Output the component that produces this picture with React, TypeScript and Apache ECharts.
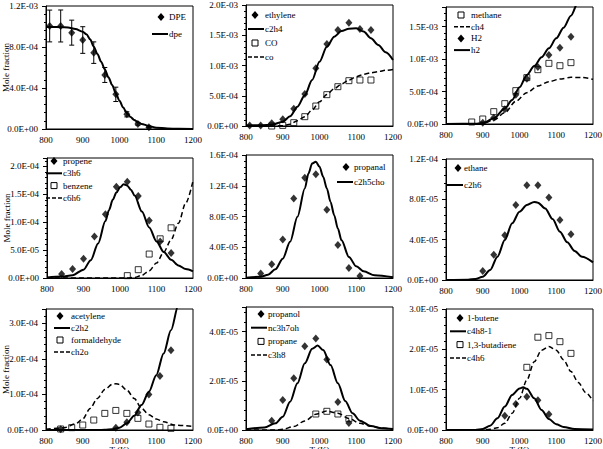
import React, { useEffect, useRef } from 'react';
import * as echarts from 'echarts';

const FONT = "'Liberation Serif', 'Times New Roman', Times, serif";

// ---------- Panel 1: DPE ----------
const dpeT = [810, 840, 870, 900, 930, 960, 990, 1020, 1050, 1080];
const dpeV = [1.005e-3, 1.005e-3, 0.94e-3, 0.868e-3, 0.745e-3, 0.527e-3, 0.338e-3, 0.143e-3, 0.049e-3, 0.016e-3];
const dpeErr = [0.155e-3, 0.156e-3, 0.122e-3, 0.13e-3, 0.105e-3, 0.073e-3, 0.07e-3, 0.025e-3, 0.012e-3, 0.005e-3];
const dpeCurveT = [800, 820, 840, 860, 880, 900, 910, 920, 930, 940, 950, 960, 970, 980, 990, 1000, 1010, 1020, 1030, 1040, 1050, 1060, 1080, 1100, 1130, 1160, 1200];
const dpeCurveV = [0.995e-3, 0.995e-3, 0.993e-3, 0.99e-3, 0.975e-3, 0.95e-3, 0.924e-3, 0.875e-3, 0.803e-3, 0.732e-3, 0.657e-3, 0.582e-3, 0.504e-3, 0.429e-3, 0.348e-3, 0.276e-3, 0.21e-3, 0.155e-3, 0.117e-3, 0.088e-3, 0.068e-3, 0.05e-3, 0.029e-3, 0.013e-3, 0.005e-3, 0.002e-3, 0];

// ---------- Panel 2: ethylene / CO ----------
const ethyT = [810, 840, 870, 900, 930, 960, 990, 1020, 1050, 1080, 1110, 1140];
const ethyV = [1e-5, 1e-5, 4.4e-5, 1.1e-4, 2.86e-4, 5.29e-4, 9.53e-4, 1.355e-3, 1.587e-3, 1.708e-3, 1.603e-3, 1.587e-3];
const coT = [870, 900, 930, 960, 990, 1020, 1050, 1080, 1110, 1140];
const coV = [0, 1e-5, 5.5e-5, 1.54e-4, 3.3e-4, 5.18e-4, 6.5e-4, 7.49e-4, 7.6e-4, 7.6e-4];
const c2h4T = [800, 840, 870, 900, 920, 940, 960, 980, 1000, 1020, 1040, 1060, 1080, 1100, 1120, 1140, 1160, 1180, 1200];
const c2h4V = [1e-5, 1.2e-5, 2e-5, 7e-5, 1.6e-4, 3.2e-4, 5.1e-4, 7.6e-4, 1.063e-3, 1.31e-3, 1.477e-3, 1.57e-3, 1.609e-3, 1.614e-3, 1.56e-3, 1.449e-3, 1.339e-3, 1.218e-3, 1.09e-3];
const coCurveT = [800, 880, 900, 920, 940, 960, 980, 1000, 1020, 1040, 1060, 1080, 1100, 1120, 1140, 1160, 1180, 1200];
const coCurveV = [0, 0, 5e-6, 3e-5, 8.8e-5, 1.54e-4, 2.64e-4, 4.0e-4, 5.2e-4, 6.17e-4, 6.94e-4, 7.6e-4, 8.15e-4, 8.54e-4, 8.8e-4, 9.0e-4, 9.2e-4, 9.35e-4];

// ---------- Panel 3: methane / H2 ----------
const methT = [870, 900, 930, 960, 990, 1020, 1050, 1080, 1110, 1140];
const methV = [3.1e-5, 7.7e-5, 1.9e-4, 3.13e-4, 5.13e-4, 7.13e-4, 8.36e-4, 9.33e-4, 8.97e-4, 9.44e-4];
const h2T = [900, 930, 960, 990, 1020, 1050, 1080, 1110, 1140];
const h2V = [2e-5, 9.7e-5, 2.26e-4, 4.51e-4, 6.97e-4, 8.77e-4, 1.062e-3, 1.174e-3, 1.344e-3];
const ch4CurveT = [800, 880, 900, 930, 960, 990, 1020, 1050, 1080, 1110, 1140, 1170, 1200];
const ch4CurveV = [0, 2e-6, 1e-5, 6e-5, 1.74e-4, 3.5e-4, 4.82e-4, 5.85e-4, 6.51e-4, 6.92e-4, 7.18e-4, 7.15e-4, 6.87e-4];
const h2CurveT = [800, 880, 900, 930, 960, 980, 1000, 1020, 1040, 1060, 1080, 1100, 1120, 1140, 1160, 1180];
const h2CurveV = [0, 3e-6, 1e-5, 8.7e-5, 2.4e-4, 3.7e-4, 5.64e-4, 7.54e-4, 8.92e-4, 1.026e-3, 1.164e-3, 1.318e-3, 1.482e-3, 1.667e-3, 1.88e-3, 2.1e-3];

// ---------- Panel 4: propene / benzene ----------
const propeneT = [840, 870, 900, 930, 960, 990, 1020, 1050, 1080, 1110, 1140];
const propeneV = [7.1e-6, 1.6e-5, 3.45e-5, 7.44e-5, 1.143e-4, 1.637e-4, 1.726e-4, 1.47e-4, 1.03e-4, 6.55e-5, 4.46e-5];
const benzT = [1020, 1050, 1080, 1110, 1140];
const benzV = [4.2e-6, 1.49e-5, 4.29e-5, 7.02e-5, 8.99e-5];
const c3h6T = [800, 840, 870, 900, 920, 940, 960, 970, 980, 990, 1000, 1010, 1020, 1030, 1040, 1060, 1080, 1100, 1120, 1140, 1160, 1180, 1200];
const c3h6V = [1e-6, 2.5e-6, 5e-6, 1.5e-5, 3.2e-5, 6.2e-5, 1.02e-4, 1.22e-4, 1.4e-4, 1.53e-4, 1.625e-4, 1.68e-4, 1.655e-4, 1.58e-4, 1.476e-4, 1.19e-4, 9.05e-5, 6.55e-5, 4.64e-5, 3.27e-5, 2.26e-5, 1.6e-5, 1.19e-5];
const c6h6T = [800, 1000, 1020, 1040, 1060, 1080, 1100, 1120, 1140, 1160, 1180, 1200];
const c6h6V = [0, 0, 2e-7, 1e-6, 4.8e-6, 1.3e-5, 2.68e-5, 4.64e-5, 6.85e-5, 9.82e-5, 1.34e-4, 1.74e-4];

// ---------- Panel 5: propanal ----------
const propanalT = [840, 870, 900, 930, 960, 990, 1020, 1050, 1080, 1110];
const propanalV = [5.7e-6, 1.78e-5, 5.0e-5, 1.035e-4, 1.304e-4, 1.348e-4, 8.87e-5, 4.3e-5, 1.3e-5, 2.6e-6];
const c2h5choT = [800, 840, 860, 880, 900, 920, 940, 960, 970, 980, 990, 1000, 1010, 1020, 1030, 1040, 1050, 1060, 1080, 1100, 1120, 1150, 1200];
const c2h5choV = [3e-7, 1.7e-6, 4.3e-6, 1.13e-5, 2.52e-5, 4.7e-5, 7.96e-5, 1.165e-4, 1.36e-4, 1.49e-4, 1.513e-4, 1.448e-4, 1.317e-4, 1.165e-4, 9.9e-5, 8.17e-5, 6.43e-5, 4.9e-5, 2.74e-5, 1.52e-5, 8.7e-6, 3.5e-6, 9e-7];

// ---------- Panel 6: ethane ----------
const ethaneT = [900, 930, 960, 990, 1020, 1050, 1080, 1110, 1140];
const ethaneV = [8.9e-6, 2.51e-5, 4.43e-5, 7.44e-5, 9.39e-5, 9.39e-5, 8.17e-5, 5.95e-5, 4.53e-5];
const c2h6T = [800, 860, 880, 900, 920, 940, 960, 980, 1000, 1020, 1040, 1050, 1070, 1090, 1110, 1130, 1150, 1170, 1200];
const c2h6V = [0, 3e-7, 1e-6, 3.3e-6, 9.9e-6, 2.31e-5, 3.97e-5, 5.62e-5, 6.78e-5, 7.44e-5, 7.74e-5, 7.67e-5, 7.1e-5, 6.05e-5, 4.79e-5, 3.74e-5, 2.88e-5, 2.31e-5, 1.75e-5];

// ---------- Panel 7: acetylene / formaldehyde ----------
const acetT = [840, 990, 1020, 1050, 1080, 1110, 1140];
const acetV = [2e-6, 6.5e-6, 2.15e-5, 4.95e-5, 1.0e-4, 1.514e-4, 2.243e-4];
const formT = [840, 870, 900, 930, 960, 990, 1020, 1050, 1080, 1110, 1140];
const formV = [2.8e-6, 6.5e-6, 1.4e-5, 2.8e-5, 4.67e-5, 5.5e-5, 4.67e-5, 3.27e-5, 1.68e-5, 7.5e-6, 4.7e-6];
const c2h2T = [800, 940, 960, 980, 1000, 1020, 1040, 1060, 1080, 1100, 1120, 1140, 1160, 1180];
const c2h2V = [0, 0, 5e-7, 2e-6, 6.5e-6, 1.87e-5, 4.0e-5, 7.0e-5, 1.075e-4, 1.54e-4, 2.15e-4, 2.8e-4, 3.5e-4, 4.3e-4];
const ch2oT = [800, 850, 880, 900, 920, 940, 960, 980, 990, 1000, 1020, 1040, 1060, 1080, 1100, 1120, 1150, 1200];
const ch2oV = [2e-6, 6.5e-6, 1.7e-5, 3.1e-5, 6.07e-5, 8.88e-5, 1.14e-4, 1.28e-4, 1.3e-4, 1.28e-4, 1.12e-4, 8.88e-5, 6.07e-5, 4.3e-5, 3.1e-5, 2.3e-5, 1.4e-5, 1.0e-5];

// ---------- Panel 8: propanol / propane ----------
const propanolT = [870, 900, 930, 960, 990, 1020, 1050, 1080];
const propanolV = [3.8e-6, 1.22e-5, 2.1e-5, 3.4e-5, 3.72e-5, 2.87e-5, 1.14e-5, 2.8e-6];
const propaneT = [990, 1020, 1050, 1080];
const propaneV = [6.5e-6, 7.6e-6, 6.5e-6, 4.6e-6];
const nc3h7ohT = [800, 850, 880, 900, 920, 940, 960, 980, 995, 1010, 1030, 1050, 1070, 1090, 1110, 1140, 1170, 1200];
const nc3h7ohV = [3e-7, 1e-6, 2.7e-6, 5.4e-6, 1.15e-5, 1.9e-5, 2.71e-5, 3.3e-5, 3.43e-5, 3.25e-5, 2.64e-5, 1.9e-5, 1.18e-5, 6.8e-6, 3.8e-6, 1.6e-6, 7e-7, 4e-7];
const c3h8T = [800, 880, 900, 930, 960, 990, 1020, 1050, 1080, 1110, 1140, 1170, 1200];
const c3h8V = [0, 0, 3e-7, 1.4e-6, 3.7e-6, 6.4e-6, 7.7e-6, 6.8e-6, 4.7e-6, 2.7e-6, 1.5e-6, 8e-7, 4e-7];

// ---------- Panel 9: 1-butene / 1,3-butadiene ----------
const buteneT = [960, 990, 1020, 1050, 1080];
const buteneV = [3.55e-6, 6.45e-6, 8.26e-6, 7.36e-6, 3.88e-6];
const butadT = [1020, 1050, 1080, 1110, 1140];
const butadV = [1.554e-5, 2.30e-5, 2.34e-5, 2.19e-5, 1.90e-5];
const c4h81T = [800, 880, 900, 920, 940, 960, 980, 1000, 1010, 1020, 1040, 1060, 1080, 1100, 1120, 1150, 1200];
const c4h81V = [0, 0, 2.5e-7, 1.07e-6, 2.9e-6, 5.8e-6, 8.7e-6, 1.03e-5, 1.06e-5, 1.02e-5, 7.85e-6, 4.96e-6, 2.73e-6, 1.4e-6, 7.4e-7, 2.5e-7, 1e-7];
const c4h6T = [800, 900, 920, 940, 960, 980, 1000, 1020, 1040, 1060, 1080, 1100, 1120, 1140, 1160, 1180, 1200];
const c4h6V = [0, 0, 1.7e-7, 5.8e-7, 1.65e-6, 4.13e-6, 7.85e-6, 1.24e-5, 1.69e-5, 1.98e-5, 2.07e-5, 1.98e-5, 1.74e-5, 1.45e-5, 1.18e-5, 9.3e-6, 7.2e-6];

// axis settings
const xTicks = { min: 800, max: 1200, interval: 100 };
const yMaxes = [1.2e-3, 2.0e-3, 1.8e-3, 2.15e-4, 1.6e-4, 1.2e-4, 3.4e-4, 5e-5, 3e-5];
const yIntervals = [4e-4, 5e-4, 5e-4, 5e-5, 4e-5, 4e-5, 1e-4, 2e-5, 1e-5];

type Kind = 'diamond' | 'square' | 'solid' | 'dashed';
type S = { name: string; kind: Kind; t: number[]; v: number[] };

const pairs = (t: number[], v: number[]) => t.map((x, i) => [x, v[i]]);

function sciLabel(interval: number) {
  return (v: number) => {
    const k = v / interval;
    if (Math.abs(k - Math.round(k)) > 1e-6) return '';
    if (Math.abs(v) < 1e-20) return '0.0E+00';
    let e = Math.floor(Math.log10(Math.abs(v)) + 1e-9);
    let m = v / Math.pow(10, e);
    m = Math.round(m * 10) / 10;
    if (m >= 10) { m = m / 10; e += 1; }
    const ae = Math.abs(e);
    return m.toFixed(1) + 'E' + (e < 0 ? '-' : '+') + (ae < 10 ? '0' : '') + ae;
  };
}

export default function App() {
  const ref = useRef<HTMLDivElement>(null);
  useEffect(() => {
    if (!ref.current) return;
    const chart = echarts.init(ref.current, null, { renderer: 'svg' });

    const panels: { box: number[]; series: S[]; leg: { cx: number; y0: number; gap: number; tx: number } }[] = [
      { box: [46, 6, 147, 123], leg: { cx: 161, y0: 17, gap: 17, tx: 169 }, series: [
        { name: 'DPE', kind: 'diamond', t: dpeT, v: dpeV },
        { name: 'dpe', kind: 'solid', t: dpeCurveT, v: dpeCurveV },
      ] },
      { box: [246, 5, 147, 121], leg: { cx: 255, y0: 15, gap: 14, tx: 265 }, series: [
        { name: 'ethylene', kind: 'diamond', t: ethyT, v: ethyV },
        { name: 'c2h4', kind: 'solid', t: c2h4T, v: c2h4V },
        { name: 'CO', kind: 'square', t: coT, v: coV },
        { name: 'co', kind: 'dashed', t: coCurveT, v: coCurveV },
      ] },
      { box: [446, 7, 147, 117], leg: { cx: 461, y0: 15, gap: 11.7, tx: 471 }, series: [
        { name: 'methane', kind: 'square', t: methT, v: methV },
        { name: 'ch4', kind: 'dashed', t: ch4CurveT, v: ch4CurveV },
        { name: 'H2', kind: 'diamond', t: h2T, v: h2V },
        { name: 'h2', kind: 'solid', t: h2CurveT, v: h2CurveV },
      ] },
      { box: [47, 158, 146, 120], leg: { cx: 54, y0: 161, gap: 12.3, tx: 63 }, series: [
        { name: 'propene', kind: 'diamond', t: propeneT, v: propeneV },
        { name: 'c3h6', kind: 'solid', t: c3h6T, v: c3h6V },
        { name: 'benzene', kind: 'square', t: benzT, v: benzV },
        { name: 'c6h6', kind: 'dashed', t: c6h6T, v: c6h6V },
      ] },
      { box: [246, 155, 147, 123], leg: { cx: 346, y0: 167, gap: 15, tx: 354 }, series: [
        { name: 'propanal', kind: 'diamond', t: propanalT, v: propanalV },
        { name: 'c2h5cho', kind: 'solid', t: c2h5choT, v: c2h5choV },
      ] },
      { box: [446, 159, 147, 121], leg: { cx: 458, y0: 168, gap: 17, tx: 464 }, series: [
        { name: 'ethane', kind: 'diamond', t: ethaneT, v: ethaneV },
        { name: 'c2h6', kind: 'solid', t: c2h6T, v: c2h6V },
      ] },
      { box: [46, 309, 147, 121], leg: { cx: 60, y0: 316, gap: 12, tx: 71 }, series: [
        { name: 'acetylene', kind: 'diamond', t: acetT, v: acetV },
        { name: 'c2h2', kind: 'solid', t: c2h2T, v: c2h2V },
        { name: 'formaldehyde', kind: 'square', t: formT, v: formV },
        { name: 'ch2o', kind: 'dashed', t: ch2oT, v: ch2oV },
      ] },
      { box: [246, 307, 147, 123], leg: { cx: 261, y0: 314, gap: 13.7, tx: 268 }, series: [
        { name: 'propanol', kind: 'diamond', t: propanolT, v: propanolV },
        { name: 'nc3h7oh', kind: 'solid', t: nc3h7ohT, v: nc3h7ohV },
        { name: 'propane', kind: 'square', t: propaneT, v: propaneV },
        { name: 'c3h8', kind: 'dashed', t: c3h8T, v: c3h8V },
      ] },
      { box: [446, 309, 147, 121], leg: { cx: 460, y0: 318, gap: 13.3, tx: 467 }, series: [
        { name: '1-butene', kind: 'diamond', t: buteneT, v: buteneV },
        { name: 'c4h8-1', kind: 'solid', t: c4h81T, v: c4h81V },
        { name: '1,3-butadiene', kind: 'square', t: butadT, v: butadV },
        { name: 'c4h6', kind: 'dashed', t: c4h6T, v: c4h6V },
      ] },
    ];

    const txt = { color: '#000', fontFamily: FONT, fontSize: 9 };

    const grid = panels.map((p) => ({
      left: p.box[0], top: p.box[1], width: p.box[2], height: p.box[3],
      show: true, borderColor: '#000', borderWidth: 1, backgroundColor: 'transparent',
      containLabel: false, outerBoundsMode: 'none',
    }));

    const xAxis = panels.map((p, i) => ({
      type: 'value', gridIndex: i, ...xTicks,
      axisLine: { show: true, onZero: false, lineStyle: { color: '#000', width: 1 } },
      axisTick: { show: false },
      splitLine: { show: false },
      axisLabel: { ...txt, margin: 6, hideOverlap: false, formatter: (v: number) => String(Math.round(v)) },
      name: i >= 6 ? 'T (K)' : '',
      nameLocation: 'middle', nameGap: 15,
      nameTextStyle: { ...txt },
    }));

    const yAxis = panels.map((p, i) => ({
      type: 'value', gridIndex: i, min: 0, max: yMaxes[i], interval: yIntervals[i],
      axisLine: { show: true, onZero: false, lineStyle: { color: '#000', width: 1 } },
      axisTick: { show: true, length: 4, lineStyle: { color: '#000' } },
      minorTick: { show: true, splitNumber: 5, length: 2, lineStyle: { color: '#000' } },
      splitLine: { show: false },
      axisLabel: { ...txt, margin: 8, formatter: sciLabel(yIntervals[i]), hideOverlap: false },
      name: i % 3 === 0 ? 'Mole fraction' : '',
      nameLocation: 'middle', nameGap: 36, nameMoveOverlap: false,
      nameTextStyle: { ...txt },
    }));

    const series: any[] = [];
    // error bars for DPE
    series.push({
      type: 'custom', xAxisIndex: 0, yAxisIndex: 0, silent: true, z: 1,
      data: dpeT.map((t, i) => [t, dpeV[i] - dpeErr[i], dpeV[i] + dpeErr[i]]),
      encode: { x: 0, y: [1, 2] },
      renderItem: (_params: any, api: any) => {
        const lo = api.coord([api.value(0), api.value(1)]);
        const hi = api.coord([api.value(0), api.value(2)]);
        const hw = 2.5;
        const st = { stroke: '#000', lineWidth: 1 };
        return {
          type: 'group',
          children: [
            { type: 'line', shape: { x1: lo[0], y1: lo[1], x2: hi[0], y2: hi[1] }, style: st },
            { type: 'line', shape: { x1: hi[0] - hw, y1: hi[1], x2: hi[0] + hw, y2: hi[1] }, style: st },
            { type: 'line', shape: { x1: lo[0] - hw, y1: lo[1], x2: lo[0] + hw, y2: lo[1] }, style: st },
          ],
        };
      },
    });

    panels.forEach((p, i) => {
      p.series.forEach((s) => {
        const base = { name: s.name, xAxisIndex: i, yAxisIndex: i, data: pairs(s.t, s.v), silent: true };
        if (s.kind === 'diamond') {
          series.push({ ...base, type: 'scatter', symbol: 'diamond', symbolSize: [7, 8], itemStyle: { color: '#000' }, z: 4 });
        } else if (s.kind === 'square') {
          series.push({ ...base, type: 'scatter', symbol: 'rect', symbolSize: 6, itemStyle: { color: 'rgba(255,255,255,0)', borderColor: '#000', borderWidth: 1 }, z: 4 });
        } else {
          series.push({
            ...base, type: 'line', symbol: 'none', showSymbol: false, smooth: 0.3, smoothMonotone: 'x', clip: true, z: 3,
            lineStyle: { color: '#000', width: s.kind === 'solid' ? 2 : 1.5, type: s.kind === 'solid' ? 'solid' : [5, 3] },
          });
        }
      });
    });

    // legends drawn as graphics
    const graphic: any[] = [];
    panels.forEach((p) => {
      const { cx, y0, gap, tx } = p.leg;
      p.series.forEach((s, k) => {
        const y = y0 + k * gap;
        if (s.kind === 'diamond') {
          graphic.push({ type: 'polygon', silent: true, shape: { points: [[cx, y - 4], [cx + 3.5, y], [cx, y + 4], [cx - 3.5, y]] }, style: { fill: '#000' } });
        } else if (s.kind === 'square') {
          graphic.push({ type: 'rect', silent: true, shape: { x: cx - 3, y: y - 3, width: 6, height: 6 }, style: { fill: '#fff', stroke: '#000', lineWidth: 1 } });
        } else {
          graphic.push({ type: 'line', silent: true, shape: { x1: tx - 17, y1: y, x2: tx - 1, y2: y }, style: { stroke: '#000', lineWidth: s.kind === 'solid' ? 2 : 1.5, lineDash: s.kind === 'solid' ? null : [4, 2] } });
        }
        graphic.push({ type: 'text', silent: true, x: tx, y, style: { text: s.name, fill: '#000', fontFamily: FONT, fontSize: 9, align: 'left', verticalAlign: 'middle' } });
      });
    });

    chart.setOption({
      animation: false,
      backgroundColor: '#fff',
      textStyle: { fontFamily: FONT },
      grid, xAxis, yAxis, series, graphic,
    });
    return () => chart.dispose();
  }, []);
  return <div ref={ref} style={{ position: 'fixed', left: 0, top: 0, width: 603, height: 449, background: '#fff' }} />;
}
